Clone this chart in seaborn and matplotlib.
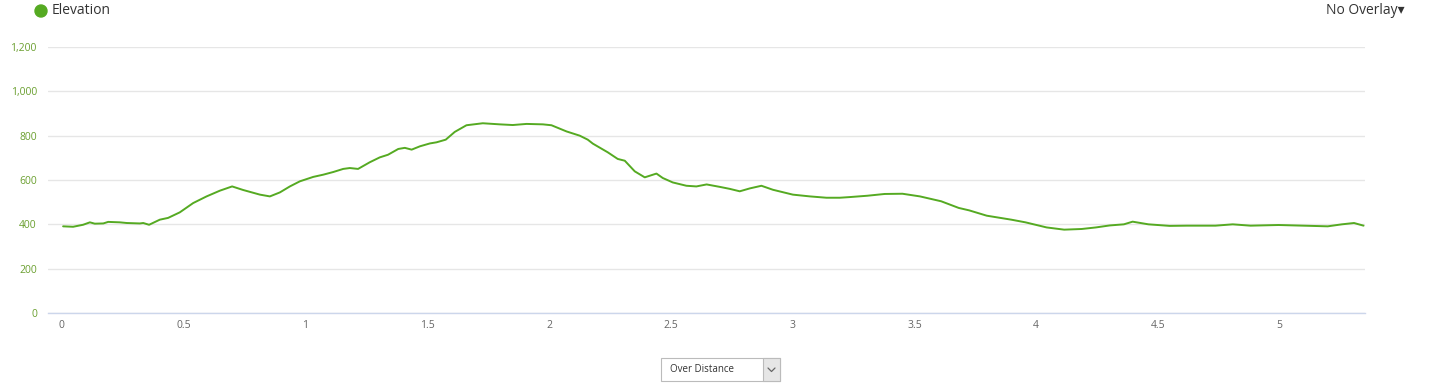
import matplotlib
matplotlib.use("Agg")
import matplotlib.pyplot as plt
import seaborn as sns
import pandas as pd
from matplotlib.patches import Rectangle, Ellipse
from matplotlib.lines import Line2D

distance = [0.005, 0.046, 0.087, 0.115, 0.135, 0.170, 0.190, 0.238, 0.266, 0.320, 0.334, 0.358,
            0.402, 0.436, 0.484, 0.539, 0.594, 0.649, 0.699, 0.744, 0.813, 0.854, 0.895, 0.936,
            0.977, 1.032, 1.073, 1.114, 1.155, 1.182, 1.216, 1.264, 1.305, 1.339, 1.381, 1.408,
            1.436, 1.470, 1.511, 1.538, 1.576, 1.613, 1.661, 1.728, 1.798, 1.851, 1.908, 1.975,
            2.010, 2.072, 2.126, 2.159, 2.180, 2.241, 2.282, 2.311, 2.352, 2.393, 2.441, 2.467,
            2.508, 2.564, 2.605, 2.647, 2.701, 2.742, 2.783, 2.824, 2.872, 2.919, 3.001, 3.071,
            3.139, 3.194, 3.235, 3.307, 3.378, 3.451, 3.523, 3.610, 3.682, 3.725, 3.797, 3.898,
            3.956, 4.043, 4.115, 4.187, 4.245, 4.302, 4.360, 4.396, 4.461, 4.548, 4.620, 4.736,
            4.807, 4.880, 4.995, 5.096, 5.197, 5.255, 5.305, 5.344]
elevation = [391, 389, 398, 409, 403, 404, 411, 409, 406, 404, 406, 398,
             421, 429, 454, 496, 526, 552, 571, 555, 534, 526, 544, 571,
             594, 614, 624, 636, 650, 654, 650, 680, 702, 714, 740, 745,
             737, 752, 765, 770, 782, 817, 847, 856, 851, 848, 853, 851,
             847, 819, 800, 782, 764, 725, 695, 687, 639, 612, 629, 609,
             589, 574, 571, 580, 569, 560, 549, 562, 574, 556, 534, 526,
             520, 520, 523, 529, 537, 538, 526, 504, 474, 463, 439, 421,
             409, 386, 376, 379, 386, 395, 400, 412, 400, 393, 394, 394,
             400, 394, 397, 394, 391, 400, 406, 394]
y_ticks = [0, 200, 400, 600, 800, 1000, 1200]
y_tick_labels = ["0", "200", "400", "600", "800", "1,000", "1,200"]
x_ticks = [0, 0.5, 1, 1.5, 2, 2.5, 3, 3.5, 4, 4.5, 5]
x_tick_labels = ["0", "0.5", "1", "1.5", "2", "2.5", "3", "3.5", "4", "4.5", "5"]

GREEN = "#55aa22"
W, H = 1439, 388

sns.set_style("white")
plt.rcParams['font.family'] = ['Open Sans', 'DejaVu Sans']

fig = plt.figure(figsize=(W / 100, H / 100), dpi=100)
ax = fig.add_axes([48 / W, (H - 313) / H, (1365 - 48) / W, (313 - 47) / H])

df = pd.DataFrame({"distance": distance, "elevation": elevation})
sns.lineplot(data=df, x="distance", y="elevation", ax=ax, color=GREEN, linewidth=1.4)

ax.set_xlim(-0.057, 5.35)
ax.set_ylim(0, 1200)
ax.set_yticks(y_ticks)
ax.set_yticklabels(y_tick_labels)
ax.set_xticks(x_ticks)
ax.set_xticklabels(x_tick_labels)
ax.set_xlabel("")
ax.set_ylabel("")
ax.yaxis.grid(True, color="#e6e6e6", linewidth=1)
ax.xaxis.grid(False)
for s in ["left", "right", "top"]:
    ax.spines[s].set_visible(False)
ax.spines["bottom"].set_color("#ccd6eb")
ax.spines["bottom"].set_linewidth(1)
ax.tick_params(axis="y", length=0, pad=8, labelsize=7.5, labelcolor="#6a9f2f")
ax.tick_params(axis="x", length=0, pad=5, labelsize=7.5, labelcolor="#666666")
ax.set_axisbelow(True)

# Legend header
fig.patches.append(Ellipse((41 / W, (H - 11) / H), 12 / W, 12 / H, transform=fig.transFigure,
                           color=GREEN, zorder=5))
fig.text(52 / W, (H - 11) / H, "Elevation", fontsize=10, color="#333333",
         ha="left", va="center")
fig.text(1405 / W, (H - 11) / H, "No Overlay\u25be", fontsize=10, color="#333333",
         ha="right", va="center", family=['Open Sans', 'DejaVu Sans'])

# Dropdown box
fig.patches.append(Rectangle((661 / W, (H - 381) / H), 119 / W, 23 / H,
                             transform=fig.transFigure, facecolor="white",
                             edgecolor="#bbbbbb", linewidth=0.8))
fig.patches.append(Rectangle((763 / W, (H - 381) / H), 17 / W, 23 / H,
                             transform=fig.transFigure, facecolor="#e6e6e6",
                             edgecolor="#bbbbbb", linewidth=0.8))
fig.text(670 / W, (H - 369.5) / H, "Over Distance", fontsize=7, color="#333333",
         ha="left", va="center")
fig.lines.append(Line2D([768 / W, 771.5 / W, 775 / W],
                        [(H - 368) / H, (H - 371.5) / H, (H - 368) / H],
                        transform=fig.transFigure, color="#666666", linewidth=0.9))

fig.savefig("out.png", dpi=100)
